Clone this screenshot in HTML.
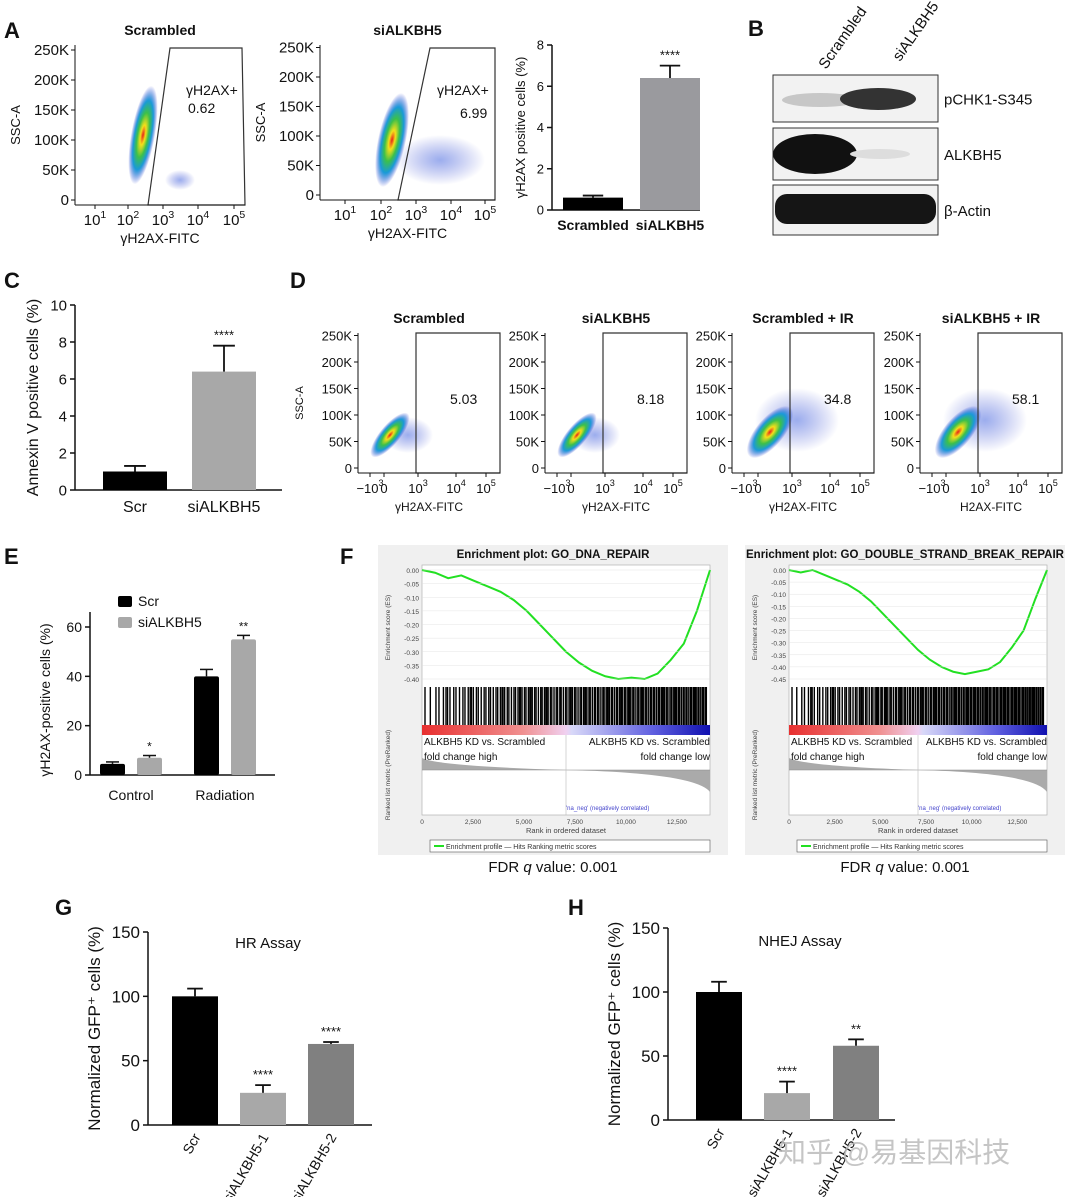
<!DOCTYPE html>
<html><head><meta charset="utf-8"><style>
html,body{margin:0;padding:0;background:#fff}
svg{display:block;font-family:"Liberation Sans","Noto Sans CJK SC",sans-serif}
</style></head><body>
<svg id="s" width="1067" height="1197" viewBox="0 0 1067 1197" xmlns="http://www.w3.org/2000/svg">
<defs>
<radialGradient id="dens" cx="50%" cy="50%" r="50%">
<stop offset="0" stop-color="#e8201a"/><stop offset="0.2" stop-color="#f4e01a"/><stop offset="0.45" stop-color="#3cc04a"/><stop offset="0.7" stop-color="#1a9ad8"/><stop offset="1" stop-color="#2a3ad0" stop-opacity="0"/>
</radialGradient>
<radialGradient id="dens2" cx="50%" cy="50%" r="50%">
<stop offset="0" stop-color="#4a6ae0" stop-opacity="0.55"/><stop offset="1" stop-color="#3a4ad0" stop-opacity="0"/>
</radialGradient>
<linearGradient id="rb" x1="0" x2="1">
<stop offset="0" stop-color="#e83030"/><stop offset="0.35" stop-color="#f09090"/><stop offset="0.5" stop-color="#f0d0f0"/><stop offset="0.52" stop-color="#d8d8f8"/><stop offset="0.8" stop-color="#6060e0"/><stop offset="1" stop-color="#1010b0"/>
</linearGradient>
</defs>
<g id="root"></g>
</svg>
<script>
// ---------- data ----------
const aCats=["Scrambled","siALKBH5"], aVals=[0.6,6.4], aErr=[0.1,0.6];
const cCats=["Scr","siALKBH5"], cVals=[1.0,6.4], cErr=[0.3,1.4];
const eGroups=["Control","Radiation"], eScr=[4.5,40], eSi=[7,55], eScrErr=[0.8,2.8], eSiErr=[0.9,1.6], eSig=["*","**"];
const gCats=["Scr","siALKBH5-1","siALKBH5-2"], gVals=[100,25,63], gErr=[6,6,1.5], gSig=["","****","****"];
const hCats=["Scr","siALKBH5-1","siALKBH5-2"], hVals=[100,21,58], hErr=[8,9,5], hSig=["","****","**"];
const aGates=["0.62","6.99"], dTitles=["Scrambled","siALKBH5","Scrambled + IR","siALKBH5 + IR"], dGates=["5.03","8.18","34.8","58.1"];
const es1=[0,-0.01,-0.03,-0.02,-0.04,-0.06,-0.08,-0.11,-0.15,-0.2,-0.25,-0.3,-0.34,-0.37,-0.39,-0.4,-0.395,-0.4,-0.38,-0.33,-0.27,-0.15,0];
const es2=[0,-0.01,0,-0.02,-0.04,-0.06,-0.09,-0.13,-0.18,-0.23,-0.28,-0.33,-0.37,-0.4,-0.42,-0.43,-0.42,-0.41,-0.38,-0.32,-0.25,-0.12,0];

const NS="http://www.w3.org/2000/svg", root=document.getElementById('root');
function mk(tag,attrs,parent,text){const e=document.createElementNS(NS,tag);for(const k in attrs)e.setAttribute(k,attrs[k]);if(text!==undefined)e.textContent=text;(parent||root).appendChild(e);return e;}
function T(x,y,s,size,opts,name){const o=Object.assign({x:x,y:y,'font-size':size,fill:'#111'},opts||{});const e=mk('text',o,null,s);

return e;}
function L(x1,y1,x2,y2,w,c){const e=mk('line',{x1,y1,x2,y2,stroke:c||'#111','stroke-width':w||1.5});return e;}

[["A",4,38],["B",748,36],["C",4,288],["D",290,288],["E",4,564],["F",340,564],["G",55,915],["H",568,915]].forEach(p=>{
T(p[1],p[2],p[0],22,{'font-weight':'bold'},'panel-letter-'+p[0]);});

function bars(cfg){
const g=mk('g',{});
const y=v=>cfg.y0-(v/cfg.max)*(cfg.y0-cfg.y1);
L(cfg.ax,cfg.y1,cfg.ax,cfg.y0,cfg.aw||1.5);
L(cfg.ax,cfg.y0,cfg.xend,cfg.y0,cfg.aw||1.5);
cfg.ticks.forEach(t=>{L(cfg.ax-5,y(t),cfg.ax,y(t),1.5);T(cfg.ax-8,y(t)+cfg.fs*0.35,String(t),cfg.fs,{'text-anchor':'end'},'y-tick-label');});
cfg.vals.forEach((v,i)=>{const x=cfg.bx[i],w=cfg.bw;
const r=mk('rect',{x:x,y:y(v),width:w,height:cfg.y0-y(v),fill:cfg.colors[i]});


const cx=x+w/2,ey=y(v+cfg.err[i]);
L(cx,y(v),cx,ey,1.8);L(cx-w*0.17,ey,cx+w*0.17,ey,1.8);
if(cfg.sig&&cfg.sig[i])T(cx,ey-6,cfg.sig[i],cfg.sfs||12,{'text-anchor':'middle'},'significance-mark');
if(cfg.cats){if(cfg.rot){T(cx+6,cfg.y0+12,cfg.cats[i],cfg.cfs,{'text-anchor':'end',transform:`rotate(-60 ${cx+6} ${cfg.y0+12})`},'x-category-label');}
else T(cx,cfg.y0+cfg.cfs+6,cfg.cats[i],cfg.cfs,{'text-anchor':'middle','font-weight':cfg.bold?'bold':'normal'},'x-category-label');}
});
T(0,0,cfg.ytitle,cfg.yfs,{'text-anchor':'middle',transform:`translate(${cfg.ytx},${(cfg.y0+cfg.y1)/2}) rotate(-90)`},'y-axis-title');
if(cfg.title)T(cfg.title[0],cfg.title[1],cfg.title[2],15,{'text-anchor':'middle'},'chart-title');
}
bars({name:'chart-a',ax:552,y0:210,y1:45,xend:700,max:8,ticks:[0,2,4,6,8],fs:13,vals:aVals,err:aErr,bx:[563,640],bw:60,colors:['#000','#9a9a9e'],sig:["","****"],sfs:13,cats:aCats,cfs:14,bold:true,ytitle:'γH2AX positive cells (%)',yfs:13,ytx:525});
bars({name:'chart-c',ax:75,y0:490,y1:305,xend:282,max:10,ticks:[0,2,4,6,8,10],fs:15,vals:cVals,err:cErr,bx:[103,192],bw:64,colors:['#000','#a8a8a8'],sig:["","****"],sfs:13,cats:cCats,cfs:16,ytitle:'Annexin V positive cells (%)',yfs:16,ytx:38});
bars({name:'chart-g',ax:148,y0:1125,y1:932,xend:372,max:150,ticks:[0,50,100,150],fs:17,vals:gVals,err:gErr,bx:[172,240,308],bw:46,colors:['#000','#a8a8a8','#808080'],sig:gSig,sfs:13,cats:gCats,cfs:14,rot:true,ytitle:'Normalized GFP⁺ cells (%)',yfs:17,ytx:100,title:[268,948,'HR Assay']});
bars({name:'chart-h',ax:668,y0:1120,y1:928,xend:895,max:150,ticks:[0,50,100,150],fs:17,vals:hVals,err:hErr,bx:[696,764,833],bw:46,colors:['#000','#a8a8a8','#808080'],sig:hSig,sfs:13,cats:hCats,cfs:14,rot:true,ytitle:'Normalized GFP⁺ cells (%)',yfs:17,ytx:620,title:[800,946,'NHEJ Assay']});

(function(){const y0=775,y1=627,max=60,ax=90;const y=v=>y0-(v/max)*(y0-y1);
L(ax,612,ax,y0);L(ax,y0,275,y0);
[0,20,40,60].forEach(t=>{L(ax-5,y(t),ax,y(t));T(ax-8,y(t)+5,String(t),14,{'text-anchor':'end'},'y-tick-label');});
const gx=[100,194];
eGroups.forEach((gname,i)=>{
[[eScr,eScrErr,'#000',0],[eSi,eSiErr,'#a8a8a8',37]].forEach(s=>{const x=gx[i]+s[3],v=s[0][i];
const r=mk('rect',{x:x,y:y(v),width:25,height:y0-y(v),fill:s[2],rx:2});


const ey=y(v+s[1][i]);L(x+12.5,y(v),x+12.5,ey);L(x+6,ey,x+19,ey);});
T(gx[i]+37+12.5,y(eSi[i]+eSiErr[i])-5,eSig[i],12,{'text-anchor':'middle'},'significance-mark');
T(gx[i]+31,800,gname,14,{'text-anchor':'middle'},'x-group-label');});
mk('rect',{x:118,y:596,width:14,height:11,fill:'#000',rx:2});T(138,606,'Scr',14,{},'legend-scr');
mk('rect',{x:118,y:617,width:14,height:11,fill:'#a8a8a8',rx:2});T(138,627,'siALKBH5',14,{},'legend-si');
T(0,0,'γH2AX-positive cells (%)',14,{'text-anchor':'middle',transform:'translate(50,700) rotate(-90)'},'y-axis-title');
})();

function flow(o){
const g=mk('g',{});


if(o.cloud)mk('ellipse',{cx:o.cloud[0],cy:o.cloud[1],rx:o.cloud[2],ry:o.cloud[3],fill:'url(#dens2)'},g);
mk('ellipse',{cx:o.cx,cy:o.cy,rx:o.rx,ry:o.ry,fill:'url(#dens)',transform:`rotate(${o.rot} ${o.cx} ${o.cy})`},g);
L(o.x0,o.y1,o.x0,o.y0,1);L(o.x0,o.y0,o.x1,o.y0,1);
o.yt.forEach((t,i)=>{const yy=o.y0-5-i*o.ys;L(o.x0-4,yy,o.x0,yy,1);T(o.x0-6,yy+5,t,o.fs,{'text-anchor':'end'},'y-tick-label');});
o.xt.forEach(t=>{const xx=t[0];L(xx,o.y0,xx,o.y0+4,1);const e=T(xx,o.y0+20,t[1],o.fs,{'text-anchor':'middle'},'x-tick-label');if(t[2]){mk('tspan',{dy:-7,'font-size':o.fs*0.7},e,t[2]);}});
T((o.x0+o.x1)/2,o.y0+38,o.xl,o.fs-1,{'text-anchor':'middle'},'x-axis-title');
if(o.ylab)T(0,0,'SSC-A',o.fs-2,{'text-anchor':'middle',transform:`translate(${o.x0-55},${(o.y0+o.y1)/2}) rotate(-90)`},'y-axis-title');
mk('polygon',{points:o.gate,fill:'none',stroke:'#333','stroke-width':1.2},g);
if(o.gl)o.gl.forEach(t=>T(t[0],t[1],t[2],14,{},'gate-label'));
if(o.title)T((o.x0+o.x1)/2,o.y1-10,o.title,14,{'text-anchor':'middle','font-weight':'bold'},'plot-title');}
flow({x0:75,x1:245,y0:205,y1:45,cx:143,cy:135,rx:12,ry:50,rot:10,cloud:[180,180,15,10],yt:['0','50K','100K','150K','200K','250K'],ys:30,fs:15,ylab:true,
xt:[[95,'10','1'],[128,'10','2'],[163,'10','3'],[198,'10','4'],[234,'10','5']],xl:'γH2AX-FITC',gate:'170,48 242,48 245,205 148,205',gl:[[186,95,'γH2AX+'],[188,113,aGates[0]]],title:'Scrambled'});
flow({x0:320,x1:495,y0:200,y1:45,cx:392,cy:140,rx:14,ry:48,rot:12,cloud:[440,160,45,25],yt:['0','50K','100K','150K','200K','250K'],ys:29.5,fs:15,ylab:true,
xt:[[345,'10','1'],[381,'10','2'],[416,'10','3'],[451,'10','4'],[485,'10','5']],xl:'γH2AX-FITC',gate:'430,48 495,48 495,200 398,200',gl:[[437,95,'γH2AX+'],[460,118,aGates[1]]],title:'siALKBH5'});
const dx=[358,545,732,920];
dx.forEach((x,i)=>{const big=i>=2;
flow({x0:x,x1:x+142,y0:473,y1:333,cx:x+(big?38:32),cy:big?432:435,rx:big?14:10,ry:big?32:28,rot:40,cloud:big?[x+65,420,42,32]:[x+50,435,25,18],yt:['0','50K','100K','150K','200K','250K'],ys:26.5,fs:13,ylab:i==0,
xt:[[x+12,'−10','3'],[x+26,'0'],[x+60,'10','3'],[x+98,'10','4'],[x+128,'10','5']],xl:i==3?'H2AX-FITC':'γH2AX-FITC',gate:`${x+58},333 ${x+142},333 ${x+142},473 ${x+58},473`,gl:[[x+92,404,dGates[i]]],title:dTitles[i]});});

T(0,0,'Scrambled',15,{transform:'translate(826,70) rotate(-55)'},'lane-label');
T(0,0,'siALKBH5',15,{transform:'translate(900,62) rotate(-55)'},'lane-label');
[[75,122,'pCHK1-S345'],[128,180,'ALKBH5'],[185,235,'β-Actin']].forEach((r,i)=>{
mk('rect',{x:773,y:r[0],width:165,height:r[1]-r[0],fill:'#f2f2f2',stroke:'#333','stroke-width':1});
T(944,(r[0]+r[1])/2+6,r[2],15,{},'blot-label');});
mk('ellipse',{cx:820,cy:100,rx:38,ry:7,fill:'#aaa',opacity:0.6});
mk('ellipse',{cx:878,cy:99,rx:38,ry:11,fill:'#333'});
mk('ellipse',{cx:815,cy:154,rx:42,ry:20,fill:'#111'});
mk('ellipse',{cx:880,cy:154,rx:30,ry:5,fill:'#ddd'});
mk('rect',{x:775,y:194,width:161,height:30,rx:12,fill:'#151515'});

function gsea(ox,w,title,es,minv,ticks){
const g=mk('g',{});


mk('rect',{x:ox,y:545,width:w,height:310,fill:'#f0f0f0'},g);
const px=ox+44,pw=w-62,top=570,esb=685;
mk('rect',{x:px,y:top-5,width:pw,height:250,fill:'#fff',stroke:'#bbb','stroke-width':0.8},g);
T(ox+w/2,558,title,11.5,{'text-anchor':'middle','font-weight':'bold'},'gsea-title');
const y=v=>top+(-v/minv)*(esb-top-6);
ticks.forEach(t=>{T(px-3,y(t)+3,t.toFixed(2),6.5,{'text-anchor':'end',fill:'#444'},'es-tick');L(px,y(t),px+pw,y(t),0.4,'#ddd');});
const pts=es.map((v,i)=>`${px+i*pw/(es.length-1)},${y(v)}`).join(' ');
const pl=mk('polyline',{points:pts,fill:'none',stroke:'#22e022','stroke-width':2},g);


for(let k=0;k<160;k++){const f=(k*0.618034)%1;const xx=px+3+Math.pow(f,0.75)*(pw-6);L(xx,esb+2,xx,esb+40,1.4,'#000');}
mk('rect',{x:px,y:725,width:pw,height:10,fill:'url(#rb)'},g);
mk('path',{d:`M${px},770 L${px},758 Q${px+15},766 ${px+pw*0.5},770 Q${px+pw*0.95},773 ${px+pw},792 L${px+pw},770 Z`,fill:'#aaa'},g);
L(px,770,px+pw,770,0.5,'#888');
L(px+pw*0.5,735,px+pw*0.5,815,0.6,'#bbb');
T(px+2,745,'ALKBH5 KD vs. Scrambled',10,{},'gsea-note');T(px+2,760,'fold change high',10,{},'gsea-note');
T(px+pw,745,'ALKBH5 KD vs. Scrambled',10,{'text-anchor':'end'},'gsea-note');T(px+pw,760,'fold change low',10,{'text-anchor':'end'},'gsea-note');
T(px+pw*0.5,810,"'na_neg' (negatively correlated)",6,{fill:'#44c'},'gsea-note');
['0','2,500','5,000','7,500','10,000','12,500'].forEach((t,i)=>T(px+i*pw*0.177,824,t,6.5,{'text-anchor':'middle',fill:'#444'},'x-tick'));
T(px+pw/2,833,'Rank in ordered dataset',7.5,{'text-anchor':'middle',fill:'#444'},'x-axis-title');
T(0,0,'Enrichment score (ES)',6.5,{'text-anchor':'middle',fill:'#444',transform:`translate(${ox+12},${(top+esb)/2}) rotate(-90)`},'y-axis-title');
T(0,0,'Ranked list metric (PreRanked)',6.5,{'text-anchor':'middle',fill:'#444',transform:`translate(${ox+12},775) rotate(-90)`},'y-axis-title');
mk('rect',{x:ox+52,y:840,width:w-70,height:12,fill:'#fff',stroke:'#555','stroke-width':0.6},g);
L(ox+56,846,ox+66,846,2,'#22e022');
T(ox+68,849,'Enrichment profile — Hits      Ranking metric scores',7,{fill:'#333'},'gsea-legend');
T(ox+w/2,872,'FDR ',15,{'text-anchor':'middle'},'fdr-label').innerHTML='FDR <tspan font-style="italic">q</tspan> value: 0.001';
}
gsea(378,350,'Enrichment plot: GO_DNA_REPAIR',es1,0.4,[0,-0.05,-0.1,-0.15,-0.2,-0.25,-0.3,-0.35,-0.4]);
gsea(745,320,'Enrichment plot: GO_DOUBLE_STRAND_BREAK_REPAIR',es2,0.45,[0,-0.05,-0.1,-0.15,-0.2,-0.25,-0.3,-0.35,-0.4,-0.45]);

T(778,1162,'知乎 @易基因科技',28,{fill:'#bbb',opacity:0.85},'watermark');
</script>
</body></html>
